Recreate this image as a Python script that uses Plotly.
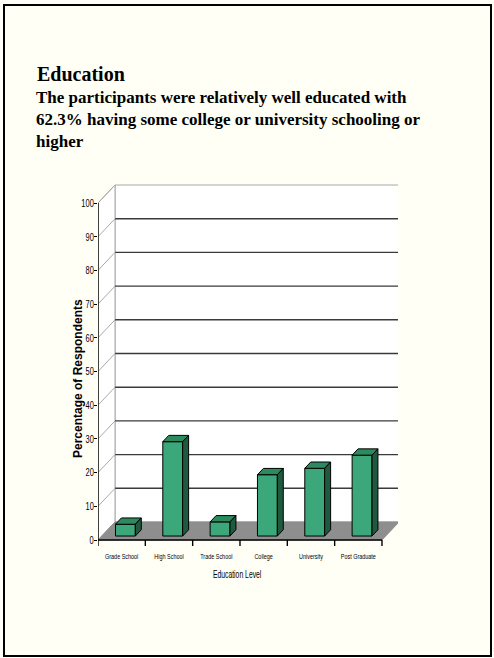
import plotly.graph_objects as go

# ---- data ----
categories = ["Grade School", "High School", "Trade School", "College", "University", "Post Graduate"]
percentages = [3.5, 28.0, 4.2, 18.2, 20.1, 24.0]
y_tick_values = [0, 10, 20, 30, 40, 50, 60, 70, 80, 90, 100]

title_text = "Education"
subtitle_text = ("The participants were relatively well educated with<br>"
                 "62.3% having some college or university schooling or<br>"
                 "higher")
x_title = "Education Level"
y_title = "Percentage of Respondents"

# ---- page geometry (pixels) ----
W, H = 494, 658
PLOT_L, PLOT_R = 98, 398          # plot area left/right
PLOT_T, PLOT_B = 184, 548         # plot area top/bottom
FRONT_ZERO_PX = 540               # pixel row of value 0 on the front edge
PX_PER_CAT = 47.33                # horizontal pixels per category slot
PX_PER_UNIT = 3.37                # vertical pixels per percentage point

# oblique depth of the box (in data units)
DX = 17 / PX_PER_CAT
DY = 18 / PX_PER_UNIT
N = len(categories)
YMAX = 100

x_range = [0, (PLOT_R - PLOT_L) / PX_PER_CAT]
y_range = [-(PLOT_B - FRONT_ZERO_PX) / PX_PER_UNIT, (FRONT_ZERO_PX - PLOT_T) / PX_PER_UNIT]

CREAM = "#FFFFF6"
FRONT_C, TOP_C, SIDE_C = "#3BA77B", "#2C8A5E", "#1F5A3F"
FLOOR_C = "#8E8E8E"
WALL_EDGE = "#A8A8A8"
GRID_C = "#3A3A3A"


def poly(xs, ys, fill, line_color, width=1):
    return go.Scatter(x=xs + [xs[0]], y=ys + [ys[0]], mode="lines", fill="toself",
                      fillcolor=fill, line=dict(color=line_color, width=width),
                      hoverinfo="skip", showlegend=False)


def seg(xs, ys, color, width=1):
    return go.Scatter(x=xs, y=ys, mode="lines", line=dict(color=color, width=width),
                      hoverinfo="skip", showlegend=False)


fig = go.Figure()

# back wall and left side wall
fig.add_trace(poly([DX, N + DX, N + DX, DX], [DY, DY, YMAX + DY, YMAX + DY], "white", WALL_EDGE))
fig.add_trace(poly([0, DX, DX, 0], [0, DY, YMAX + DY, YMAX], "white", WALL_EDGE))

# gridlines: horizontal on the back wall, diagonal on the side wall
for v in y_tick_values[1:-1]:
    fig.add_trace(seg([DX, N + DX], [v + DY, v + DY], GRID_C, 1.4))
for v in y_tick_values[1:]:
    fig.add_trace(seg([0, DX], [v, v + DY], WALL_EDGE, 1))

# floor
fig.add_trace(poly([0, N, N + DX, DX], [0, 0, DY, DY], FLOOR_C, FLOOR_C))

# front axis lines and category tick marks
tick_drop = 6 / PX_PER_UNIT
fig.add_trace(seg([0, 0], [YMAX, -tick_drop], "black", 1.4))
fig.add_trace(seg([0, N], [0, 0], "black", 1.4))
for i in range(1, N + 1):
    fig.add_trace(seg([i, i], [0, -tick_drop], "black", 1.4))

# 3-D columns
HALF_W = 0.21
D0, D1 = 0.22, 0.57
for i, v in enumerate(percentages):
    cx = i + 0.5 + D0 * DX
    y0 = D0 * DY
    top = y0 + v
    ddx, ddy = (D1 - D0) * DX, (D1 - D0) * DY
    xl, xr = cx - HALF_W, cx + HALF_W
    fig.add_trace(poly([xl, xr, xr, xl], [y0, y0, top, top], FRONT_C, "black"))
    fig.add_trace(poly([xl, xr, xr + ddx, xl + ddx], [top, top, top + ddy, top + ddy], TOP_C, "black"))
    fig.add_trace(poly([xr, xr + ddx, xr + ddx, xr], [y0, y0 + ddy, top + ddy, top], SIDE_C, "black"))

PW, PH = PLOT_R - PLOT_L, PLOT_B - PLOT_T


def px_x(px):
    return (px - PLOT_L) / PW


def px_y(py):
    return (PLOT_B - py) / PH


AXIS_FONT = "Liberation Sans, Arial, sans-serif"
SERIF = "Liberation Serif, Times New Roman, serif"

fig.update_layout(
    width=W, height=H,
    margin=dict(l=PLOT_L, r=W - PLOT_R, t=PLOT_T, b=H - PLOT_B, pad=0),
    paper_bgcolor=CREAM, plot_bgcolor=CREAM,
    showlegend=False,
    xaxis=dict(range=x_range, showgrid=False, zeroline=False, showline=False,
               tickvals=[i + 0.5 for i in range(N)], ticktext=categories, ticks="",
               tickangle=0, ticklabelstandoff=2,
               tickfont=dict(family=AXIS_FONT, size=8, color="black"),
               fixedrange=True),
    yaxis=dict(range=y_range, showgrid=False, zeroline=False, showline=False,
               tickvals=y_tick_values, ticks="outside", ticklen=3, tickwidth=1, tickcolor="black",
               ticklabelstandoff=-2,
               tickfont=dict(family=AXIS_FONT, size=11, color="black"),
               fixedrange=True),
    annotations=[
        dict(text=title_text, xref="paper", yref="paper", x=px_x(35), y=px_y(74),
             xanchor="left", yanchor="middle", showarrow=False,
             font=dict(family=SERIF, size=20, color="black", weight="bold")),
        dict(text=subtitle_text, xref="paper", yref="paper", x=px_x(34), y=px_y(86),
             xanchor="left", yanchor="top", align="left", showarrow=False,
             font=dict(family=SERIF, size=17, color="black", weight="bold")),
        dict(text=y_title, xref="paper", yref="y", x=px_x(78), y=(FRONT_ZERO_PX - 379) / PX_PER_UNIT,
             textangle=-90, xanchor="center", yanchor="middle", showarrow=False,
             font=dict(family=AXIS_FONT, size=12, color="black", weight="bold")),
        dict(text=x_title, xref="x", yref="paper", x=N / 2 - 0.07, y=px_y(574),
             xanchor="center", yanchor="middle", showarrow=False,
             font=dict(family=AXIS_FONT, size=11, color="black")),
    ],
    shapes=[dict(type="rect", xref="paper", yref="paper",
                 x0=px_x(4), x1=px_x(491), y0=px_y(656), y1=px_y(5),
                 line=dict(color="black", width=2), fillcolor="rgba(0,0,0,0)")],
)

# the chart's axis lettering is condensed horizontally
post = """
var gd = document.getElementById('{plot_id}');
function squashEl(t, k) {
  var w = t.getComputedTextLength();
  t.setAttribute('textLength', (w * k).toFixed(1));
  t.setAttribute('lengthAdjust', 'spacingAndGlyphs');
}
gd.querySelectorAll('.xtick text').forEach(function (t) { squashEl(t, 0.68); });
gd.querySelectorAll('.ytick text').forEach(function (t) { squashEl(t, 0.68); });
gd.querySelectorAll('.annotation-text').forEach(function (t) {
  if (t.textContent === 'Education Level') { squashEl(t, 0.62); }
});
"""

fig.write_html("out.html", config={"staticPlot": True}, post_script=post)
